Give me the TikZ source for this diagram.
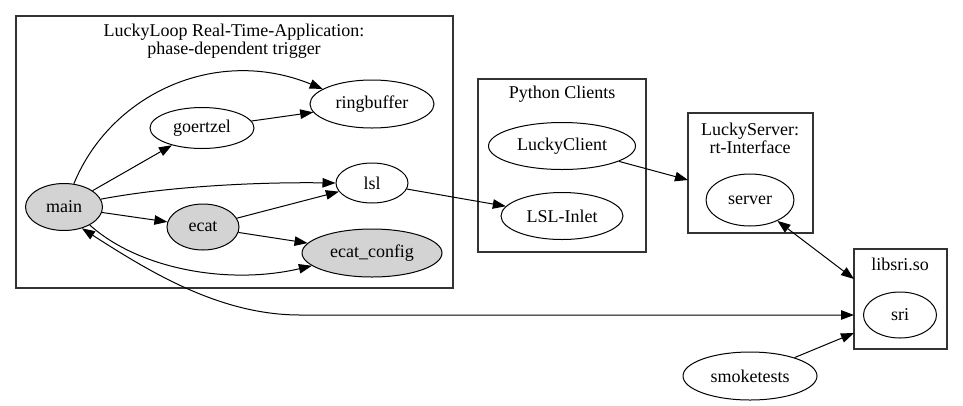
\documentclass[tikz,border=0pt]{standalone}
\usepackage{fontspec}
\setmainfont{Liberation Serif}
\usetikzlibrary{arrows.meta,shapes.geometric}
\definecolor{nodegray}{HTML}{D3D3D3}
\newcommand{\gvfont}{\fontsize{18}{18}\selectfont\lineskiplimit=-30pt\relax}
\tikzset{
  gnode/.style={draw,ellipse,inner sep=0pt,line width=1pt,font=\gvfont},
  grey/.style={fill=nodegray},
  cluster/.style={draw=black!80,line width=1.3pt,rectangle,inner sep=0pt},
  ctitle/.style={align=center,inner sep=0pt,font=\gvfont},
  gvtip/.tip={Triangle[length=13pt,width=9.5pt]},
  edge/.style={line width=1pt,-gvtip},
  bedge/.style={line width=1pt,gvtip-gvtip}
}
\begin{document}
\begin{tikzpicture}[x=1pt,y=-1pt]
\useasboundingbox (0,0) rectangle (963,405);
% clusters
\node[cluster,minimum width=437pt,minimum height=272pt] (c1) at (234.5,152) {};
\node[ctitle] (c1t) at (234,41) {LuckyLoop Real-Time-Application:\\phase-dependent trigger};
\node[cluster,minimum width=168pt,minimum height=173pt] (c2) at (562,165.5) {};
\node[ctitle] (c2t) at (562,94) {Python Clients};
\node[cluster,minimum width=125pt,minimum height=120pt] (c3) at (750.5,173) {};
\node[ctitle] (c3t) at (750,138) {LuckyServer:\\rt-Interface};
\node[cluster,minimum width=93pt,minimum height=100pt] (c4) at (900.5,299) {};
\node[ctitle] (c4t) at (900,264) {libsri.so};
% nodes
\node[gnode,minimum width=124pt,minimum height=48pt] (ringbuffer) at (372,104) {ringbuffer};
\node[gnode,minimum width=104pt,minimum height=41pt] (goertzel) at (202,128) {goertzel};
\node[gnode,minimum width=72pt,minimum height=40pt] (lsl) at (372,183) {lsl};
\node[gnode,grey,minimum width=77pt,minimum height=47pt] (main) at (64,207) {main};
\node[gnode,grey,minimum width=72pt,minimum height=46pt] (ecat) at (203,227) {ecat};
\node[gnode,grey,minimum width=140pt,minimum height=48pt] (ecatconfig) at (372,253) {ecat\_config};
\node[gnode,minimum width=147pt,minimum height=47pt] (luckyclient) at (562,146) {LuckyClient};
\node[gnode,minimum width=122pt,minimum height=47pt] (inlet) at (562,216) {LSL-Inlet};
\node[gnode,minimum width=88pt,minimum height=52pt] (server) at (750,200) {server};
\node[gnode,minimum width=73pt,minimum height=46pt] (sri) at (900,315) {sri};
\node[gnode,minimum width=134pt,minimum height=48pt] (smoketests) at (750,376) {smoketests};
% free ends on cluster borders
\coordinate (lsA) at (688,180);
\coordinate (srA) at (854,279);
\coordinate (srB) at (854,315);
\coordinate (srC) at (854,333);
% edges
\draw[edge] (main.67) .. controls (110,95) and (215,45) .. (ringbuffer.163);
\draw[edge] (main) -- (goertzel);
\draw[edge] (goertzel) -- (ringbuffer);
\draw[edge] (main.12) .. controls (170,186) and (260,182) .. (lsl.west);
\draw[edge] (main) -- (ecat);
\draw[edge] (ecat) -- (lsl);
\draw[edge] (ecat) -- (ecatconfig);
\draw[edge] (main.-35) .. controls (140,270) and (230,285) .. (ecatconfig.192);
\draw[edge] (lsl) -- (inlet);
\draw[edge] (luckyclient) -- (lsA);
\draw[bedge] (server) -- (srA);
\draw[bedge] (main.-50) .. controls (150,272) and (220,315) .. (300,315) -- (srB);
\draw[edge] (smoketests) -- (srC);
\end{tikzpicture}
\end{document}
